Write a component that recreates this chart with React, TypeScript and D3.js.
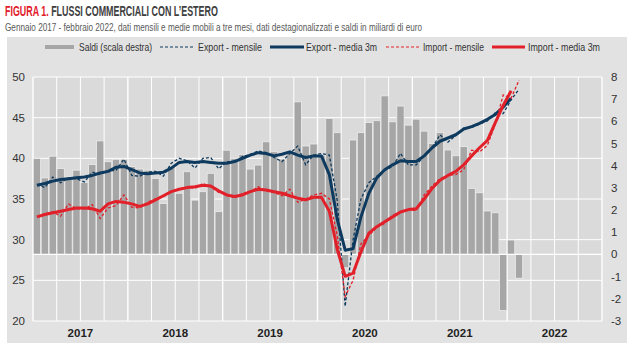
import React, { useLayoutEffect, useRef, useState } from "react";
import * as d3 from "d3";

const years = ["2017", "2018", "2019", "2020", "2021", "2022"];

// Saldi (scala destra), Jan 2017 - Feb 2022
const saldi = [
  4.32, 3.45, 4.43, 3.88, 3.49, 3.8, 3.25, 4.06, 5.12, 4.18, 4.29, 4.29,
  3.96, 3.85, 3.8, 3.43, 2.3, 3.96, 2.76, 3.73, 2.45, 2.83, 3.66, 1.93,
  4.7, 4.33, 4.51, 3.85, 4.03, 5.08, 4.63, 4.3, 4.56, 6.88, 4.89, 4.98,
  4.48, 6.13, 5.49, -0.6, 5.16, 5.49, 5.95, 6.03, 7.15, 5.98, 6.69, 5.83,
  6.1, 5.56, 5.0, 5.49, 4.71, 4.45, 4.86, 2.98, 2.78, 1.96, 1.88, -2.53,
  0.65, -1.07,
];

const exportMensile = [
  36.8, 36.4, 37.7, 37.0, 37.6, 37.5, 37.1, 38.3, 38.0, 38.5, 38.5, 39.9,
  37.9, 37.8, 38.3, 38.4, 37.8, 39.4, 40.0, 39.7, 38.8, 40.0, 40.1, 38.7,
  39.6, 39.5, 40.2, 40.5, 40.9, 40.7, 40.1, 39.6, 40.6, 41.5, 39.2, 40.4,
  40.6, 40.4, 34.8, 21.8, 30.0, 35.0, 37.0, 37.8, 38.5, 39.0, 40.6, 39.2,
  39.2, 40.3, 41.3, 42.9, 42.0, 42.8, 43.7, 43.8, 44.2, 44.6, 45.6, 45.5,
  47.2, 48.5,
];

const exportMedia3m = [
  36.7, 36.9, 37.2, 37.4, 37.5, 37.6, 37.7, 37.9, 38.2, 38.4, 38.9, 39.0,
  38.6, 38.2, 38.1, 38.2, 38.3, 38.8, 39.5, 39.6, 39.5, 39.6, 39.5, 39.4,
  39.4, 39.6, 40.0, 40.4, 40.7, 40.6, 40.3, 40.5, 40.8, 40.4, 40.1, 40.3,
  40.3, 38.0, 32.5, 28.7, 28.9, 32.8, 35.7, 37.6, 38.6, 39.2, 39.7, 39.6,
  39.6, 40.3, 41.3, 42.1, 42.5, 42.9, 43.6, 43.9, 44.3, 44.8, 45.4, 46.3,
  47.4,
];

const importMensile = [
  32.8, 33.2, 33.4, 32.9, 34.4, 33.8, 33.8, 34.3, 32.6, 33.9, 34.2, 35.5,
  34.0, 33.9, 34.6, 35.0, 35.3, 35.9, 36.2, 36.5, 36.3, 36.9, 36.5, 35.8,
  35.6, 35.1, 35.7, 35.9, 36.5, 36.0, 35.8, 35.4, 36.2, 34.6, 35.0, 35.5,
  35.7, 35.0, 30.5, 23.0, 25.0, 29.5, 30.5, 31.5, 32.0, 33.0, 33.4, 33.6,
  33.6, 35.5, 36.6, 37.5, 37.9, 38.0, 38.6, 41.0, 40.8, 41.6, 44.2, 47.8,
  47.4, 49.6,
];

const importMedia3m = [
  32.8, 33.1, 33.3, 33.5, 33.7, 33.9, 33.9, 33.8, 33.5, 34.4, 34.7, 34.6,
  34.4, 34.1, 34.4, 34.9, 35.4, 35.9, 36.2, 36.4, 36.5, 36.7, 36.6, 36.0,
  35.5, 35.3, 35.5, 35.9, 36.2, 36.1, 35.9, 35.7, 35.4, 35.1, 34.9, 35.2,
  35.2, 33.5, 28.8, 25.5, 25.9, 28.5, 30.8, 31.6, 32.2, 32.8, 33.4, 33.7,
  33.8, 35.0, 36.3, 37.3, 37.9, 38.4, 39.2, 40.3, 41.3, 42.2, 44.4, 46.5,
  48.3,
];

const leftTicks = [20, 25, 30, 35, 40, 45, 50];
const rightTicks = [-3, -2, -1, 0, 1, 2, 3, 4, 5, 6, 7, 8];

const legendItems = [
  { label: "Saldi (scala destra)", kind: "bar", color: "#a6a6a6", sx: 45, sw: 29, tx: 79, tw: 73 },
  { label: "Export - mensile", kind: "dash", color: "#0d3a5e", sx: 160, sw: 34, tx: 198, tw: 64 },
  { label: "Export - media 3m", kind: "solid", color: "#0d3a5e", sx: 270, sw: 34, tx: 306, tw: 71 },
  { label: "Import - mensile", kind: "dash", color: "#e2202a", sx: 386, sw: 34, tx: 423, tw: 61 },
  { label: "Import - media 3m", kind: "solid", color: "#e2202a", sx: 492, sw: 33, tx: 528, tw: 72 },
];

const SANS = "'Liberation Sans', Arial, sans-serif";

export default function App() {
  const W = 642;
  const H = 359;
  const nMonths = years.length * 12;
  const x = d3.scaleLinear().domain([0, nMonths]).range([33, 602]);
  const yL = d3.scaleLinear().domain([20, 50]).range([321, 77]);
  const yR = d3.scaleLinear().domain([-3, 8]).range([321, 77]);

  const titleRef = useRef<SVGTextElement>(null);
  const [titleScale, setTitleScale] = useState(0.72);
  useLayoutEffect(() => {
    const el = titleRef.current;
    if (el) {
      const len = el.getComputedTextLength();
      if (len > 0) setTitleScale(213 / len);
    }
  }, []);

  const mkLine = (data: number[]) =>
    d3
      .line<number>()
      .x((_, i) => x(i + 0.5))
      .y((d) => yL(d))(data) || "";

  const quarterLines = d3.range(0, nMonths + 1, 3);

  const EXP = "#0d3a5e";
  const IMP = "#e2202a";

  return (
    <svg
      width={W}
      height={H}
      style={{ position: "absolute", left: 0, top: 0, display: "block", background: "#ffffff" }}
    >
      {/* Title */}
      <text
        ref={titleRef}
        transform={`translate(5,16) scale(${titleScale},1)`}
        fontFamily={SANS}
        fontSize={14}
        fontWeight="bold"
      >
        <tspan fill="#e2202a">FIGURA 1.</tspan>
        <tspan fill="#404040"> FLUSSI COMMERCIALI CON L’ESTERO</tspan>
      </text>
      <text x={5} y={31} fontFamily={SANS} fontSize={11.5} fill="#595959" textLength={417} lengthAdjust="spacingAndGlyphs">
        Gennaio 2017 - febbraio 2022, dati mensili e medie mobili a tre mesi, dati destagionalizzati e saldi in miliardi di euro
      </text>

      {/* Panel */}
      <rect x={7} y={37} width={620} height={306} fill="#e2e2e2" />

      {/* Legend */}
      {legendItems.map((it) => (
        <g key={it.label}>
          {it.kind === "bar" && (
            <rect x={it.sx} y={45} width={it.sw} height={4} fill={it.color} />
          )}
          {it.kind === "dash" && (
            <line x1={it.sx} x2={it.sx + it.sw} y1={47} y2={47} stroke={it.color} strokeWidth={1.2} strokeDasharray="3,2" />
          )}
          {it.kind === "solid" && (
            <line x1={it.sx} x2={it.sx + it.sw} y1={47} y2={47} stroke={it.color} strokeWidth={3} />
          )}
          <text x={it.tx} y={51} fontFamily={SANS} fontSize={11} fill="#333" textLength={it.tw} lengthAdjust="spacingAndGlyphs">
            {it.label}
          </text>
        </g>
      ))}

      {/* Plot background */}
      <rect x={x(0)} y={yL(50)} width={x(nMonths) - x(0)} height={yL(20) - yL(50)} fill="#dadada" />

      {/* Grid */}
      {leftTicks.map((t) => (
        <line key={"h" + t} x1={x(0)} x2={x(nMonths)} y1={yL(t)} y2={yL(t)} stroke="#ffffff" strokeWidth={1} />
      ))}
      {quarterLines.map((m) => (
        <line
          key={"v" + m}
          x1={x(m)}
          x2={x(m)}
          y1={yL(50)}
          y2={yL(20)}
          stroke="#ffffff"
          strokeWidth={m % 12 === 0 ? 1.4 : 1}
        />
      ))}

      {/* Bars */}
      {saldi.map((v, i) => (
        <rect
          key={"b" + i}
          x={x(i) + 0.3}
          width={x(i + 1) - x(i) - 0.6}
          y={Math.min(yR(v), yR(0))}
          height={Math.abs(yR(v) - yR(0))}
          fill="#a6a6a6"
          stroke="#ececec"
          strokeWidth={0.8}
        />
      ))}
      <line x1={x(0)} x2={x(nMonths)} y1={yR(0)} y2={yR(0)} stroke="#ffffff" strokeWidth={1.2} />

      {/* Lines */}
      <path d={mkLine(exportMensile)} fill="none" stroke={EXP} strokeWidth={1.3} strokeDasharray="3,2" />
      <path d={mkLine(exportMedia3m)} fill="none" stroke={EXP} strokeWidth={3} strokeLinejoin="round" />
      <path d={mkLine(importMensile)} fill="none" stroke={IMP} strokeWidth={1.3} strokeDasharray="3,2" />
      <path d={mkLine(importMedia3m)} fill="none" stroke={IMP} strokeWidth={3} strokeLinejoin="round" />

      {/* Left axis labels */}
      {leftTicks.map((t) => (
        <text key={"l" + t} x={25} y={yL(t) + 4} textAnchor="end" fontFamily={SANS} fontSize={11.5} fill="#333">
          {t}
        </text>
      ))}
      {/* Right axis labels */}
      {rightTicks.map((t) => (
        <text key={"r" + t} x={611} y={yR(t) + 4} textAnchor="start" fontFamily={SANS} fontSize={11.5} fill="#333">
          {t}
        </text>
      ))}
      {/* Year labels */}
      {years.map((yv, k) => (
        <text key={yv} x={x(k * 12 + 6)} y={337} textAnchor="middle" fontFamily={SANS} fontSize={11.5} fontWeight="bold" fill="#222">
          {yv}
        </text>
      ))}
    </svg>
  );
}
